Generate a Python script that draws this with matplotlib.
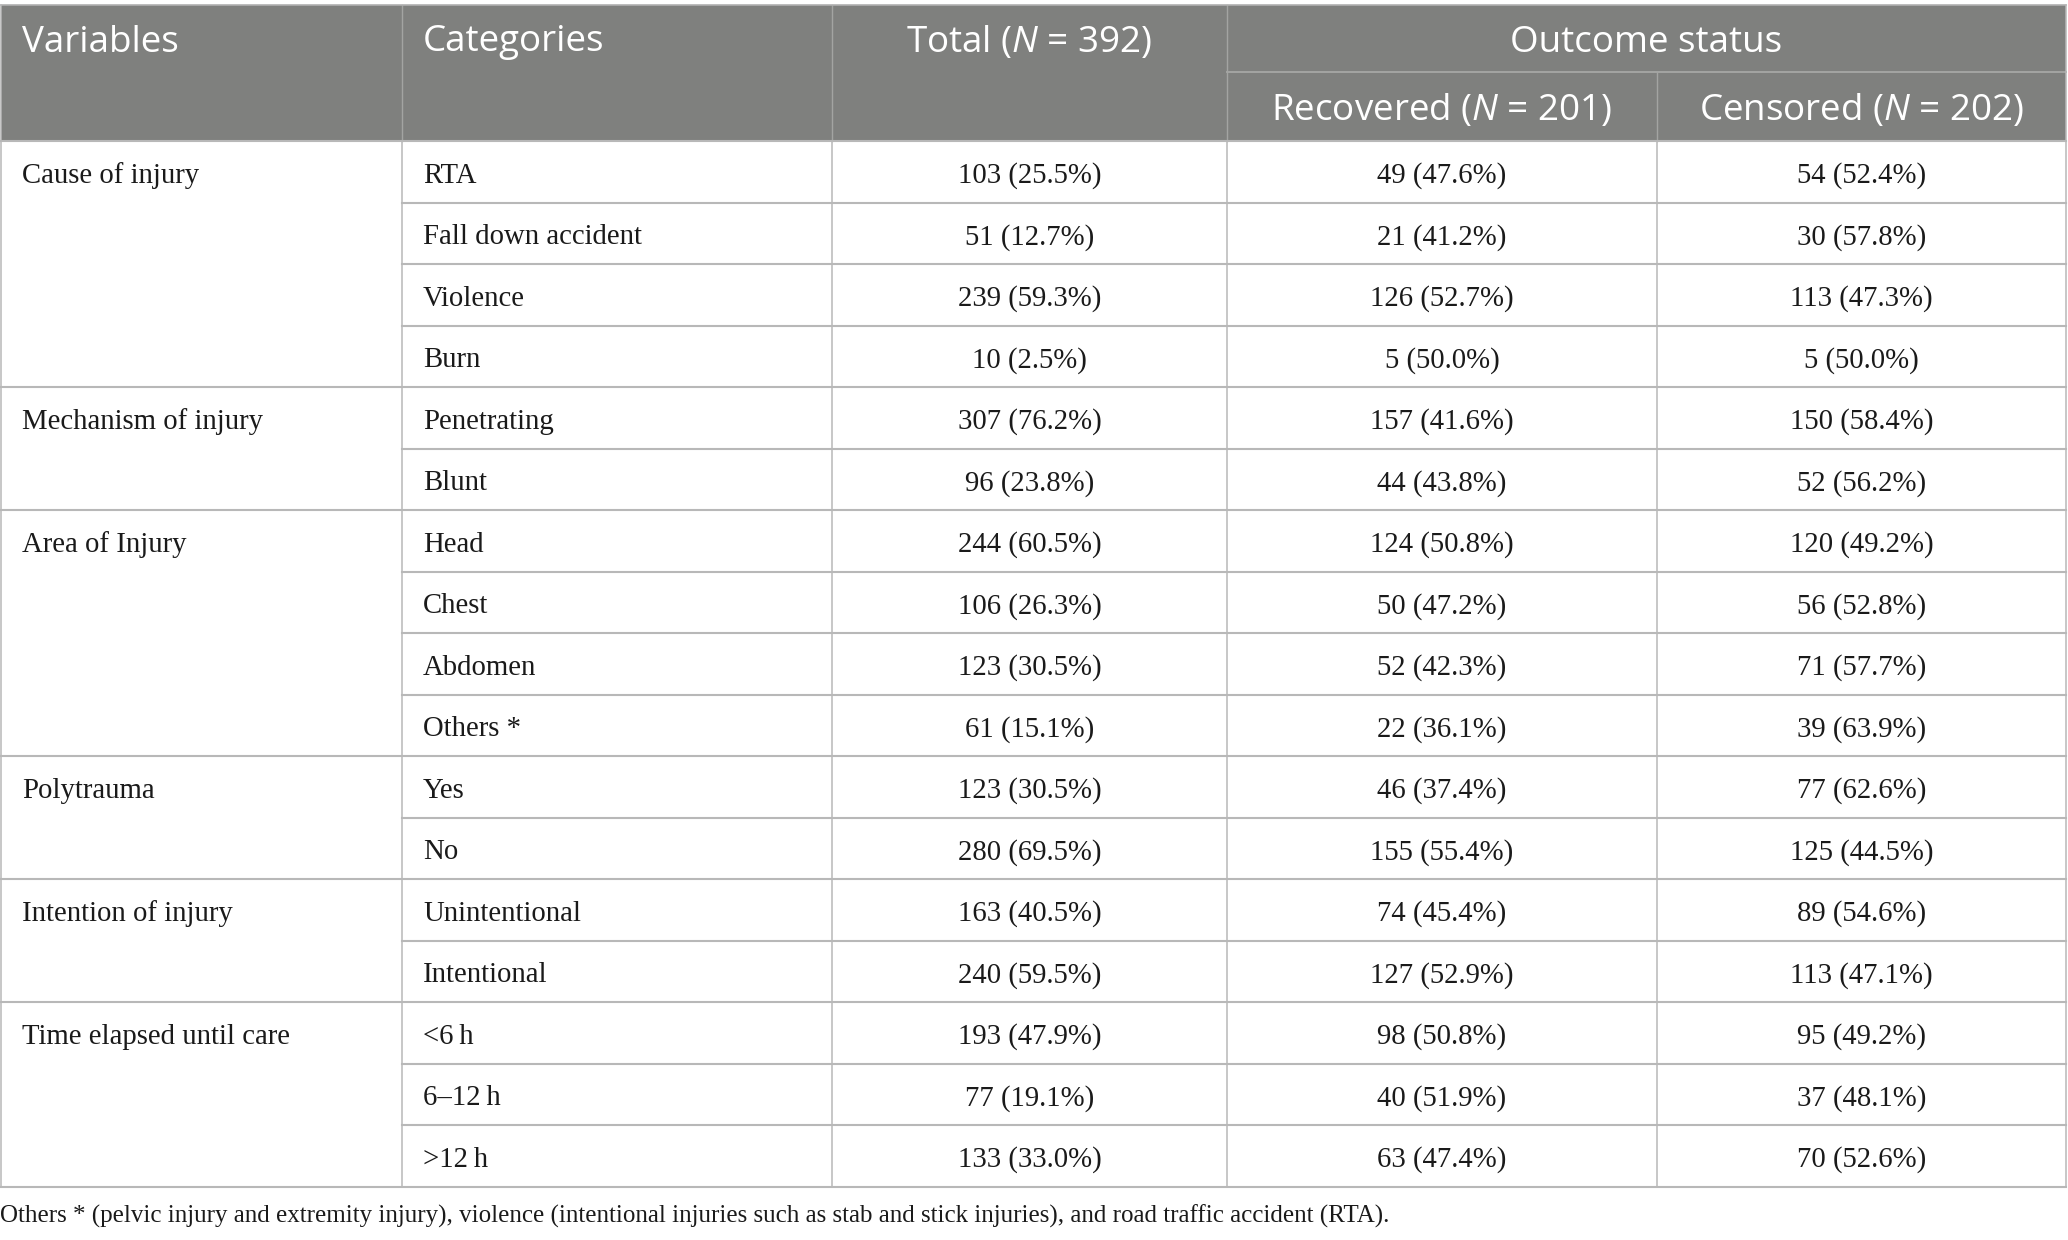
import matplotlib
matplotlib.use('Agg')
import matplotlib.pyplot as plt
from matplotlib.patches import Rectangle

# Table content
variables = ['Cause of injury', 'Mechanism of injury', 'Area of Injury',
             'Polytrauma', 'Intention of injury', 'Time elapsed until care']
group_sizes = [4, 2, 4, 2, 2, 3]
categories = ['RTA', 'Fall down accident', 'Violence', 'Burn',
              'Penetrating', 'Blunt',
              'Head', 'Chest', 'Abdomen', 'Others *',
              'Yes', 'No',
              'Unintentional', 'Intentional',
              '<6\u2009h', '6\u201312\u2009h', '>12\u2009h']
total_n = [103, 51, 239, 10, 307, 96, 244, 106, 123, 61, 123, 280, 163, 240, 193, 77, 133]
total_pct = [25.5, 12.7, 59.3, 2.5, 76.2, 23.8, 60.5, 26.3, 30.5, 15.1, 30.5, 69.5,
             40.5, 59.5, 47.9, 19.1, 33.0]
recovered_n = [49, 21, 126, 5, 157, 44, 124, 50, 52, 22, 46, 155, 74, 127, 98, 40, 63]
recovered_pct = [47.6, 41.2, 52.7, 50.0, 41.6, 43.8, 50.8, 47.2, 42.3, 36.1, 37.4, 55.4,
                 45.4, 52.9, 50.8, 51.9, 47.4]
censored_n = [54, 30, 113, 5, 150, 52, 120, 56, 71, 39, 77, 125, 89, 113, 95, 37, 70]
censored_pct = [52.4, 57.8, 47.3, 50.0, 58.4, 56.2, 49.2, 52.8, 57.7, 63.9, 62.6, 44.5,
                54.6, 47.1, 49.2, 48.1, 52.6]
headers = ['Variables', 'Categories', 'Total ($\\mathit{N}$ = 392)']
outcome_header = 'Outcome status'
sub_headers = ['Recovered ($\\mathit{N}$ = 201)', 'Censored ($\\mathit{N}$ = 202)']
footnote = ('Others * (pelvic injury and extremity injury), violence (intentional injuries '
            'such as stab and stick injuries), and road traffic accident (RTA).')

plt.rcParams['mathtext.fontset'] = 'custom'
plt.rcParams['mathtext.rm'] = 'Open Sans'
plt.rcParams['mathtext.it'] = 'Open Sans:italic'

W, H = 2068, 1240
fig = plt.figure(figsize=(W / 100, H / 100), dpi=100)
ax = fig.add_axes([0, 0, 1, 1])
ax.set_xlim(0, W)
ax.set_ylim(H, 0)
ax.axis('off')

# layout (pixels)
cols = [0.5, 402, 832, 1227, 1657, 2066]
top, mid, hbot = 5, 72, 141
row_h = 61.5
bottom = hbot + row_h * len(categories)
head_bg = '#7f807e'
head_line = '#a3a4a2'
grid = '#b8b8b8'
sans = ['Open Sans', 'DejaVu Sans']
serif = ['Liberation Serif', 'DejaVu Serif']
hsize = 26.5
bsize = 20.7
dy_h = 4   # small downward nudge so text sits like the reference
dy_b = 4

# header
ax.add_patch(Rectangle((cols[0], top), cols[-1] - cols[0], hbot - top,
                       facecolor=head_bg, edgecolor='none', zorder=1))
ax.plot([cols[0], cols[-1]], [top, top], color='#b0b0b0', lw=1.2, zorder=3)
for x in cols[1:4]:
    ax.plot([x, x], [top, hbot], color=head_line, lw=1.0, zorder=2)
ax.plot([cols[3], cols[-1]], [mid, mid], color=head_line, lw=1.4, zorder=2)
ax.plot([cols[4], cols[4]], [mid, hbot], color=head_line, lw=1.0, zorder=2)

yh1 = (top + mid) / 2 + dy_h
yh2 = (mid + hbot) / 2 + dy_h
ax.text(22, yh1, headers[0], color='white', fontsize=hsize, family=sans, va='center', ha='left')
ax.text(423, yh1, headers[1], color='white', fontsize=hsize, family=sans, va='center', ha='left')
ax.text((cols[2] + cols[3]) / 2, yh1, headers[2], color='white', fontsize=hsize,
        family=sans, va='center', ha='center')
ax.text((cols[3] + cols[5]) / 2, yh1, outcome_header, color='white', fontsize=hsize,
        family=sans, va='center', ha='center')
ax.text((cols[3] + cols[4]) / 2, yh2, sub_headers[0], color='white', fontsize=hsize,
        family=sans, va='center', ha='center')
ax.text((cols[4] + cols[5]) / 2, yh2, sub_headers[1], color='white', fontsize=hsize,
        family=sans, va='center', ha='center')

# body grid
for x in cols:
    ax.plot([x, x], [hbot, bottom], color=grid, lw=1.1, zorder=2)
ax.plot([cols[0], cols[0]], [top, hbot], color=grid, lw=1.1, zorder=3)
ax.plot([cols[-1], cols[-1]], [top, hbot], color=grid, lw=1.1, zorder=3)
group_starts = []
i = 0
for g in group_sizes:
    group_starts.append(i)
    i += g
for r in range(len(categories) + 1):
    y = hbot + r * row_h
    x0 = cols[0] if (r in group_starts or r == len(categories)) else cols[1]
    ax.plot([x0, cols[-1]], [y, y], color=grid, lw=1.5, zorder=2)

# body text
txt = '#1a1a1a'
for r, cat in enumerate(categories):
    yc = hbot + (r + 0.5) * row_h + dy_b
    ax.text(423, yc, cat, fontsize=bsize, family=serif, color=txt, va='center', ha='left')
    for c, (n, p) in enumerate([(total_n[r], total_pct[r]),
                                (recovered_n[r], recovered_pct[r]),
                                (censored_n[r], censored_pct[r])]):
        xc = (cols[c + 2] + cols[c + 3]) / 2
        ax.text(xc, yc, f'{n} ({p:.1f}%)', fontsize=bsize, family=serif, color=txt,
                va='center', ha='center')
for v, start in zip(variables, group_starts):
    yc = hbot + (start + 0.5) * row_h + dy_b
    ax.text(22, yc, v, fontsize=bsize, family=serif, color=txt, va='center', ha='left')

ax.text(0, 1216, footnote, fontsize=18, family=serif, color=txt, va='center', ha='left')

fig.savefig('out.png', dpi=100)
